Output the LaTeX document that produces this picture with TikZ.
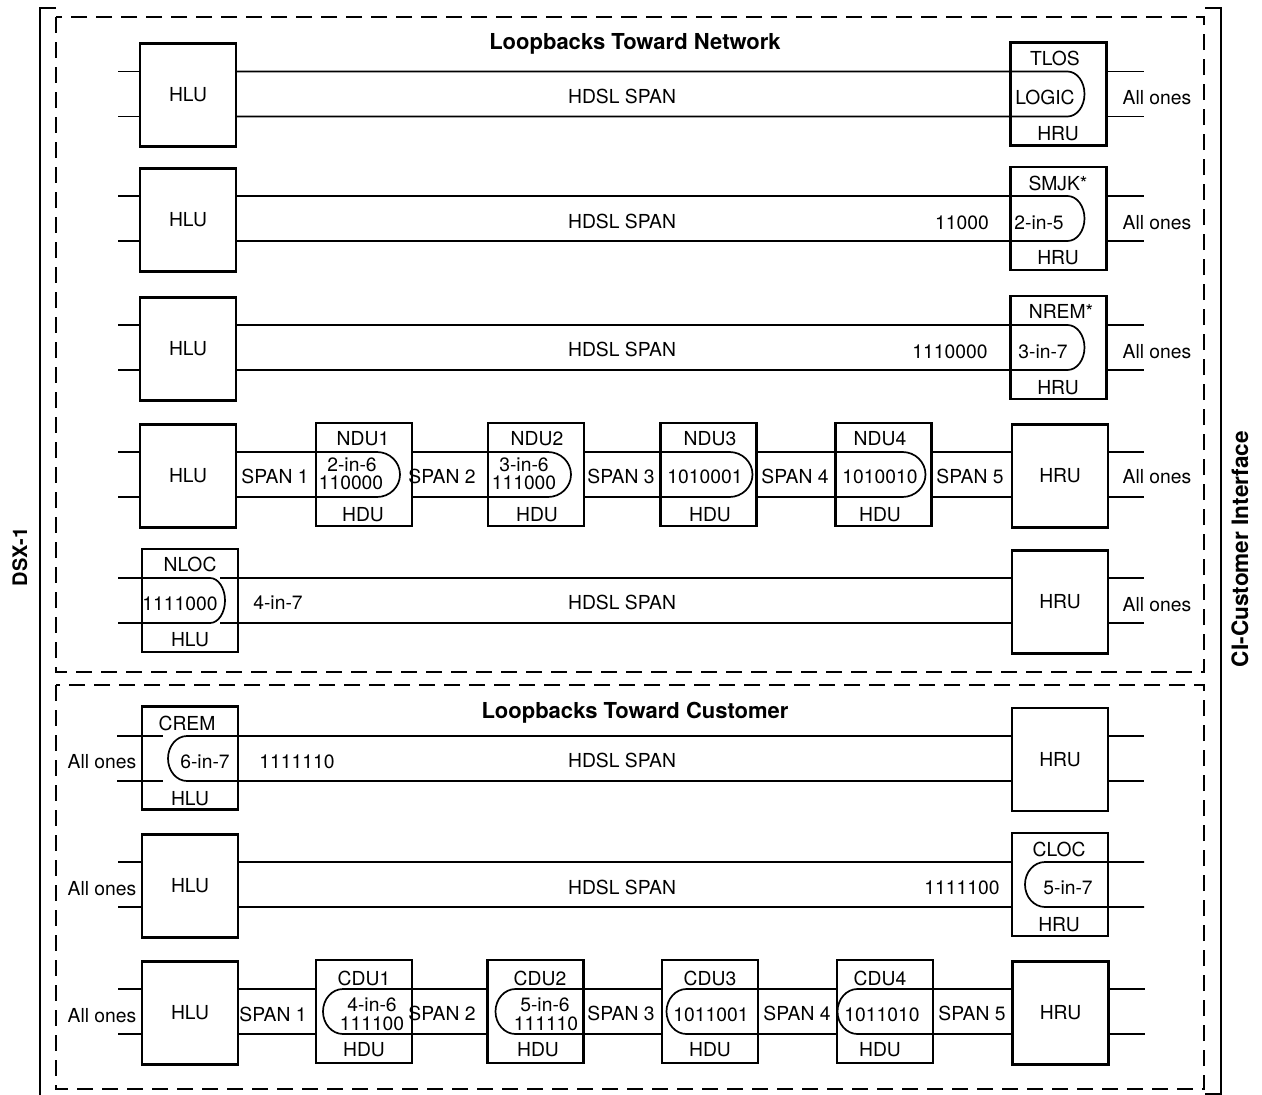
\documentclass[tikz,border=0pt]{standalone}
\usepackage{fontspec}
\setmainfont{TeX Gyre Heros}
\usetikzlibrary{calc}
\begin{document}
\begin{tikzpicture}[x=1pt,y=-1pt,
  box/.style={draw,line width=2.7pt,minimum width=96pt,minimum height=103pt,inner sep=0pt,outer sep=0pt},
  wire/.style={line width=1.7pt},
  lbl/.style={font=\fontsize{19.3}{22}\selectfont,inner sep=0pt,text height=13.9pt,text depth=0pt,yshift=-1.5pt},
  ttl/.style={font=\bfseries\fontsize{22}{26}\selectfont,inner sep=0pt,text height=15.8pt,text depth=0pt},
  side/.style={font=\bfseries\fontsize{20}{24}\selectfont,inner sep=0pt,rotate=90,text height=14.4pt,text depth=0pt},
  frame/.style={line width=1.8pt},
  dbox/.style={line width=1.8pt,dash pattern=on 16pt off 9pt}]
\useasboundingbox (0,0) rectangle (1262,1095);
% frames
\draw[frame] (56,8) -- (40,8) -- (40,1096);
\draw[frame] (1205,8) -- (1221,8) -- (1221,1094) -- (1205,1094);
\draw[dbox] (56,17) rectangle (1204,672);
\draw[dbox] (56,685) rectangle (1204,1089);
\node[side] (dsx) at (20,557) {DSX-1};
\node[side,font=\bfseries\fontsize{22.6}{26}\selectfont,text height=16.2pt] (ci) at (1240,549) {CI-Customer Interface};
\node[ttl] (ttlN) at (635,42) {Loopbacks Toward Network};
\node[ttl] (ttlC) at (635,711) {Loopbacks Toward Customer};

% ---------- Row 1 : TLOS
\node[box,lbl] (hlu1) at (188,93.5) {HLU};
\node[box] (tlos) at (1058.5,94) {};
\node[lbl] (tlosA) at (1055,57) {TLOS};
\node[lbl] (tlosB) at (1045,96) {LOGIC};
\node[lbl] (tlosC) at (1058,132) {HRU};
\node[lbl] (hs1) at (622,95) {HDSL SPAN};
\node[lbl] (ao1) at (1157,96) {All ones};
\draw[wire] (hlu1.west|-0,71.5) -- ++(-22,0) (hlu1.west|-0,116.5) -- ++(-22,0);
\draw[wire] (hlu1.east|-0,71.5) -- (tlos.west|-0,71.5) -- ++(57,0) arc[start angle=90,end angle=-90,x radius=17pt,y radius=22.5pt] -- (tlos.west|-0,116.5) -- (hlu1.east|-0,116.5);
\draw[wire] (tlos.east|-0,71.5) -- ++(37,0) (tlos.east|-0,116.5) -- ++(37,0);

% ---------- Row 2 : SMJK
\node[box,lbl] (hlu2) at (188,218.5) {HLU};
\node[box] (smjk) at (1058.5,218.5) {};
\node[lbl] (smjkA) at (1058,182) {SMJK*};
\node[lbl] (smjkB) at (1039,221) {2-in-5};
\node[lbl] (smjkC) at (1058,256) {HRU};
\node[lbl] (hs2) at (622,220) {HDSL SPAN};
\node[lbl] (c2) at (962,221) {11000};
\node[lbl] (ao2) at (1157,221) {All ones};
\draw[wire] (hlu2.west|-0,196) -- ++(-22,0) (hlu2.west|-0,241) -- ++(-22,0);
\draw[wire] (hlu2.east|-0,196) -- (smjk.west|-0,196) -- ++(57,0) arc[start angle=90,end angle=-90,x radius=17pt,y radius=22.5pt] -- (smjk.west|-0,241) -- (hlu2.east|-0,241);
\draw[wire] (smjk.east|-0,196) -- ++(37,0) (smjk.east|-0,241) -- ++(37,0);

% ---------- Row 3 : NREM
\node[box,lbl] (hlu3) at (188,347.5) {HLU};
\node[box] (nrem) at (1058.5,347.5) {};
\node[lbl] (nremA) at (1061,310) {NREM*};
\node[lbl] (nremB) at (1043,350) {3-in-7};
\node[lbl] (nremC) at (1058,386) {HRU};
\node[lbl] (hs3) at (622,348) {HDSL SPAN};
\node[lbl] (c3) at (950,350) {1110000};
\node[lbl] (ao3) at (1157,350) {All ones};
\draw[wire] (hlu3.west|-0,325) -- ++(-22,0) (hlu3.west|-0,370) -- ++(-22,0);
\draw[wire] (hlu3.east|-0,325) -- (nrem.west|-0,325) -- ++(57,0) arc[start angle=90,end angle=-90,x radius=17pt,y radius=22.5pt] -- (nrem.west|-0,370) -- (hlu3.east|-0,370);
\draw[wire] (nrem.east|-0,325) -- ++(37,0) (nrem.east|-0,370) -- ++(37,0);

% ---------- Row 4 : NDU
\node[box,lbl] (hlu4) at (188,474.5) {HLU};
\node[box] (ndu1) at (364,474.5) {};
\node[box] (ndu2) at (536,474.5) {};
\node[box] (ndu3) at (708.5,474.5) {};
\node[box] (ndu4) at (883.5,474.5) {};
\node[box,lbl] (hru4) at (1060,474.5) {HRU};
\node[lbl] (s41) at (275,475) {SPAN 1};
\node[lbl] (s42) at (442,475) {SPAN 2};
\node[lbl] (s43) at (621,475) {SPAN 3};
\node[lbl] (s44) at (795,475) {SPAN 4};
\node[lbl] (s45) at (970,475) {SPAN 5};
\node[lbl] (ao4) at (1157,475) {All ones};
\node[lbl] (n1a) at (363,437) {NDU1};
\node[lbl] (n1b) at (352,463) {2-in-6};
\node[lbl] (n1c) at (351,481) {110000};
\node[lbl] (n1d) at (363,513) {HDU};
\node[lbl] (n2a) at (537,437) {NDU2};
\node[lbl] (n2b) at (524,463) {3-in-6};
\node[lbl] (n2c) at (524,481) {111000};
\node[lbl] (n2d) at (537,513) {HDU};
\node[lbl] (n3a) at (710,437) {NDU3};
\node[lbl] (n3b) at (705,475) {1010001};
\node[lbl] (n3d) at (710,513) {HDU};
\node[lbl] (n4a) at (880,437) {NDU4};
\node[lbl] (n4b) at (880,475) {1010010};
\node[lbl] (n4d) at (880,513) {HDU};
\draw[wire] (hlu4.west|-0,452) -- ++(-22,0) (hlu4.west|-0,497) -- ++(-22,0);
\draw[wire] (hlu4.east|-0,452) -- (ndu1.west|-0,452) -- ++(61,0) arc[start angle=90,end angle=-90,x radius=23pt,y radius=22.5pt] -- (ndu1.west|-0,497) -- (hlu4.east|-0,497);
\draw[wire] (ndu1.east|-0,452) -- (ndu2.west|-0,452) -- ++(60,0) arc[start angle=90,end angle=-90,x radius=23pt,y radius=22.5pt] -- (ndu2.west|-0,497) -- (ndu1.east|-0,497);
\draw[wire] (ndu2.east|-0,452) -- (ndu3.west|-0,452) -- ++(69,0) arc[start angle=90,end angle=-90,x radius=23pt,y radius=22.5pt] -- (ndu3.west|-0,497) -- (ndu2.east|-0,497);
\draw[wire] (ndu3.east|-0,452) -- (ndu4.west|-0,452) -- ++(67,0) arc[start angle=90,end angle=-90,x radius=23pt,y radius=22.5pt] -- (ndu4.west|-0,497) -- (ndu3.east|-0,497);
\draw[wire] (ndu4.east|-0,452) -- (hru4.west|-0,452) (ndu4.east|-0,497) -- (hru4.west|-0,497);
\draw[wire] (hru4.east|-0,452) -- ++(36,0) (hru4.east|-0,497) -- ++(36,0);

% ---------- Row 5 : NLOC
\node[box] (nloc) at (190,600.5) {};
\node[box,lbl] (hru5) at (1060,600.5) {HRU};
\node[lbl] (nlA) at (190,563) {NLOC};
\node[lbl] (nlB) at (180,602) {1111000};
\node[lbl] (nlC) at (190,638) {HLU};
\node[lbl] (c5) at (278,601) {4-in-7};
\node[lbl] (hs5) at (622,601) {HDSL SPAN};
\node[lbl] (ao5) at (1157,603) {All ones};
\draw[wire] (nloc.west|-0,578) ++(-24,0) -- ++(92,0) arc[start angle=90,end angle=-90,x radius=15pt,y radius=22.5pt] -- ++(-92,0);
\draw[wire] ($(nloc.west|-0,578)+(78,0)$) -- (hru5.west|-0,578) ($(nloc.west|-0,623)+(78,0)$) -- (hru5.west|-0,623);
\draw[wire] (hru5.east|-0,578) -- ++(36,0) (hru5.east|-0,623) -- ++(36,0);

% ---------- Row 6 : CREM
\node[box] (crem) at (190,758) {};
\node[box,lbl] (hru6) at (1060,758) {HRU};
\node[lbl] (crA) at (187,722) {CREM};
\node[lbl] (crB) at (205,760) {6-in-7};
\node[lbl] (crC) at (190,797) {HLU};
\node[lbl] (ao6) at (102,760) {All ones};
\node[lbl] (c6) at (297,760) {1111110};
\node[lbl] (hs6) at (622,759) {HDSL SPAN};
\draw[wire] (crem.west|-0,736) ++(-25,0) -- ++(46,0) (crem.west|-0,781) ++(-25,0) -- ++(46,0);
\draw[wire] (hru6.west|-0,736) -- ($(crem.west|-0,736)+(45,0)$) arc[start angle=90,end angle=270,x radius=19pt,y radius=22.5pt] -- (hru6.west|-0,781);
\draw[wire] (hru6.east|-0,736) -- ++(36,0) (hru6.east|-0,781) -- ++(36,0);

% ---------- Row 7 : CLOC
\node[box,lbl] (hlu7) at (190,884.5) {HLU};
\node[box] (cloc) at (1060,884.5) {};
\node[lbl] (clA) at (1059,848) {CLOC};
\node[lbl] (clB) at (1068,886) {5-in-7};
\node[lbl] (clC) at (1059,923) {HRU};
\node[lbl] (ao7) at (102,887) {All ones};
\node[lbl] (hs7) at (622,886) {HDSL SPAN};
\node[lbl] (c7) at (962,886) {1111100};
\draw[wire] (hlu7.west|-0,862) -- ++(-24,0) (hlu7.west|-0,907) -- ++(-24,0);
\draw[wire] (hlu7.east|-0,862) -- (cloc.west|-0,862) (hlu7.east|-0,907) -- (cloc.west|-0,907);
\draw[wire] (cloc.east|-0,862) ++(36,0) -- ++(-99,0) arc[start angle=90,end angle=270,x radius=20pt,y radius=22.5pt] -- ++(99,0);

% ---------- Row 8 : CDU
\node[box,lbl] (hlu8) at (190,1011.5) {HLU};
\node[box] (cdu1) at (364,1011.5) {};
\node[box] (cdu2) at (535.5,1011.5) {};
\node[box] (cdu3) at (710,1011.5) {};
\node[box] (cdu4) at (885,1011.5) {};
\node[box,lbl] (hru8) at (1060.5,1011.5) {HRU};
\node[lbl] (ao8) at (102,1014) {All ones};
\node[lbl] (s81) at (273,1013) {SPAN 1};
\node[lbl] (s82) at (442,1012) {SPAN 2};
\node[lbl] (s83) at (621,1012) {SPAN 3};
\node[lbl] (s84) at (797,1012) {SPAN 4};
\node[lbl] (s85) at (972,1012) {SPAN 5};
\node[lbl] (d1a) at (364,977) {CDU1};
\node[lbl] (d1b) at (372,1003) {4-in-6};
\node[lbl] (d1c) at (372,1022) {111100};
\node[lbl] (d1d) at (364,1048) {HDU};
\node[lbl] (d2a) at (540,977) {CDU2};
\node[lbl] (d2b) at (545,1003) {5-in-6};
\node[lbl] (d2c) at (546,1022) {111110};
\node[lbl] (d2d) at (538,1048) {HDU};
\node[lbl] (d3a) at (710,977) {CDU3};
\node[lbl] (d3b) at (711,1013) {1011001};
\node[lbl] (d3d) at (710,1048) {HDU};
\node[lbl] (d4a) at (880,977) {CDU4};
\node[lbl] (d4b) at (882,1013) {1011010};
\node[lbl] (d4d) at (880,1048) {HDU};
\draw[wire] (hlu8.west|-0,989) -- ++(-24,0) (hlu8.west|-0,1034) -- ++(-24,0);
\draw[wire] (hlu8.east|-0,989) -- (cdu1.west|-0,989) (hlu8.east|-0,1034) -- (cdu1.west|-0,1034);
\draw[wire] (cdu2.west|-0,989) -- (cdu1.east|-0,989) -- ++(-69,0) arc[start angle=90,end angle=270,x radius=20pt,y radius=22.5pt] -- (cdu1.east|-0,1034) -- (cdu2.west|-0,1034);
\draw[wire] (cdu3.west|-0,989) -- (cdu2.east|-0,989) -- ++(-68,0) arc[start angle=90,end angle=270,x radius=20pt,y radius=22.5pt] -- (cdu2.east|-0,1034) -- (cdu3.west|-0,1034);
\draw[wire] (cdu4.west|-0,989) -- (cdu3.east|-0,989) -- ++(-71.5,0) arc[start angle=90,end angle=270,x radius=20pt,y radius=22.5pt] -- (cdu3.east|-0,1034) -- (cdu4.west|-0,1034);
\draw[wire] (hru8.west|-0,989) -- (cdu4.east|-0,989) -- ++(-75.5,0) arc[start angle=90,end angle=270,x radius=20pt,y radius=22.5pt] -- (cdu4.east|-0,1034) -- (hru8.west|-0,1034);
\draw[wire] (hru8.east|-0,989) -- ++(36,0) (hru8.east|-0,1034) -- ++(36,0);
\end{tikzpicture}
\end{document}
